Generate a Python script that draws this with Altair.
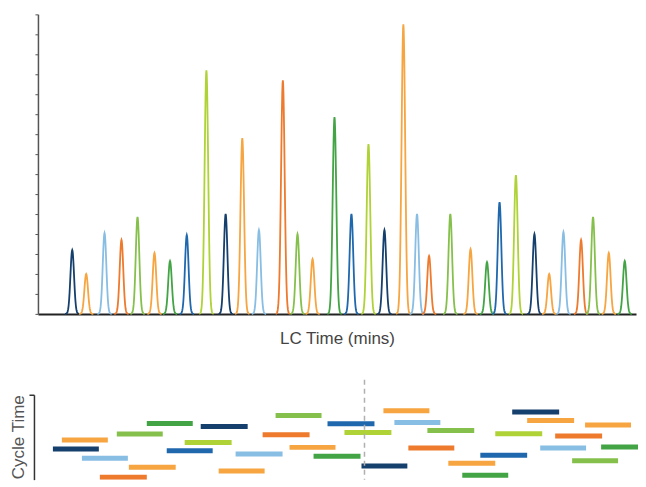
import altair as alt
import pandas as pd

N, B, LB = "#153f6c", "#2068ae", "#88bde4"
DO, LO = "#ee7a2d", "#f6a541"
YG, MG, DG = "#afd237", "#86c04c", "#43a445"

# Chromatogram peaks: retention time (min), peak height, colour
peak_time = [3.44, 4.84, 6.68, 8.38, 9.99, 11.69, 13.25, 14.93, 16.90, 18.83,
             20.50, 22.17, 24.57, 26.04, 27.55, 29.75, 31.45, 33.16, 34.76, 36.66,
             38.03, 39.24, 41.37, 43.40, 45.05, 46.31, 47.95, 49.81, 51.29, 52.72,
             54.49, 55.69, 57.27, 58.87]
peak_height = [3.2, 2.0, 4.05, 3.7, 4.85, 3.05, 2.65, 3.95, 12.2, 5.0,
               8.8, 4.2, 11.7, 4.0, 2.75, 9.85, 5.0, 8.5, 4.2, 14.5,
               5.0, 2.9, 5.0, 3.25, 2.6, 5.6, 6.95, 4.0, 2.0, 4.1,
               3.7, 4.85, 3.05, 2.65]
peak_color = [N, LO, LB, DO, MG, LO, DG, B, YG, N,
              LO, LB, DO, MG, LO, DG, B, YG, N, LO,
              LB, DO, MG, LO, DG, B, YG, N, LO, LB,
              DO, MG, LO, DG]
peak_sigma = 0.18
peak_offsets = [round(-0.72 + 0.03 * k, 2) for k in range(49)]

# Scheduled acquisition windows (cycle time panel)
bar_start = [2.40, 1.50, 4.41, 6.21, 9.12, 7.91, 10.92, 12.92, 14.72, 16.33,
             18.13, 19.83, 22.54, 23.84, 25.24, 27.65, 29.05, 34.66, 35.76, 30.75,
             39.07, 32.46, 37.16, 41.17, 42.57, 44.38, 45.88, 47.58, 49.08, 50.39,
             51.89, 54.89, 53.59, 56.50]
bar_end = [7.01, 6.11, 9.02, 10.92, 13.82, 12.52, 15.53, 17.53, 19.43, 21.04,
           22.74, 24.54, 27.25, 28.45, 29.85, 32.36, 33.76, 39.27, 40.37, 35.46,
           43.77, 37.06, 41.77, 45.88, 47.18, 49.08, 50.59, 52.29, 53.79, 54.99,
           56.60, 59.50, 58.20, 61.00]
bar_level = [3.97, 3.07, 2.13, 0.23, 1.23, 4.57, 5.63, 2.90, 3.73, 5.33,
             0.87, 2.57, 4.50, 6.43, 3.23, 2.33, 5.60, 6.90, 5.73, 4.73,
             4.93, 1.37, 3.17, 1.63, 0.43, 2.43, 4.60, 6.77, 5.93, 3.17,
             4.37, 5.47, 1.90, 3.27]
bar_color = [LO, N, LB, DO, LO, MG, DG, B, YG, N,
             LO, LB, DO, MG, LO, DG, B, LO, LB, YG,
             MG, N, DO, LO, DG, B, YG, N, LO, LB,
             DO, LO, MG, DG]

marker_time = [32.76]

peaks = pd.DataFrame({
    "peak": list(range(len(peak_time))),
    "t": peak_time,
    "h": peak_height,
    "c": peak_color,
    "o": [peak_offsets] * len(peak_time),
})

top = alt.Chart(peaks).transform_flatten(["o"]).transform_calculate(
    tt="datum.t + datum.o",
    s=f"datum.h * exp(-0.5 * pow(datum.o / {peak_sigma}, 2))",
).mark_line(strokeWidth=1.8).encode(
    x=alt.X("tt:Q", scale=alt.Scale(domain=[0, 60], nice=False, zero=False),
            axis=alt.Axis(title="LC Time (mins)", ticks=False, labels=False, grid=False,
                          domainColor="#222", domainWidth=2,
                          titleFont="Liberation Sans", titleFontSize=17,
                          titleFontWeight="normal", titleColor="#444",
                          titlePadding=17)),
    y=alt.Y("s:Q", scale=alt.Scale(domain=[0, 15], nice=False),
            axis=alt.Axis(title=None, labels=False, values=list(range(16)), tickSize=3,
                          grid=False, domainColor="#555", tickColor="#555", domainWidth=1.5)),
    color=alt.Color("c:N", scale=None),
    detail="peak:N",
).properties(width=599, height=300)

bars_df = pd.DataFrame({"x1": bar_start, "x2": bar_end, "y": bar_level, "c": bar_color})
bars = alt.Chart(bars_df).mark_rule(strokeWidth=5, clip=True).encode(
    x=alt.X("x1:Q", scale=alt.Scale(domain=[0, 60.2], nice=False, zero=False), axis=None),
    x2="x2:Q",
    y=alt.Y("y:Q", scale=alt.Scale(domain=[0, 8.5], nice=False),
            axis=alt.Axis(title="Cycle Time", labels=False, values=[8.5], tickSize=5, offset=4,
                          grid=False, domainColor="#333", tickColor="#333", domainWidth=1.5,
                          tickWidth=1.5, titleFont="Liberation Sans", titleFontSize=17,
                          titleFontWeight="normal", titleColor="#555", titlePadding=1,
                          titleY=42)),
    color=alt.Color("c:N", scale=None),
)
dash_df = pd.DataFrame({"x": marker_time, "y1": [10], "y2": [0]})
dash = alt.Chart(dash_df).mark_rule(strokeDash=[5, 4], color="#b0b0b0", strokeWidth=1.5).encode(
    x="x:Q", y="y1:Q", y2="y2:Q"
)
bottom = alt.layer(bars, dash).properties(width=601, height=85)

chart = alt.vconcat(top, bottom, spacing=81, bounds="flush").properties(
    padding={"left": 1, "top": 5, "right": 0, "bottom": 0}
).configure_view(stroke=None)

chart.save("out.html", embed_options={"renderer": "svg", "actions": False})
